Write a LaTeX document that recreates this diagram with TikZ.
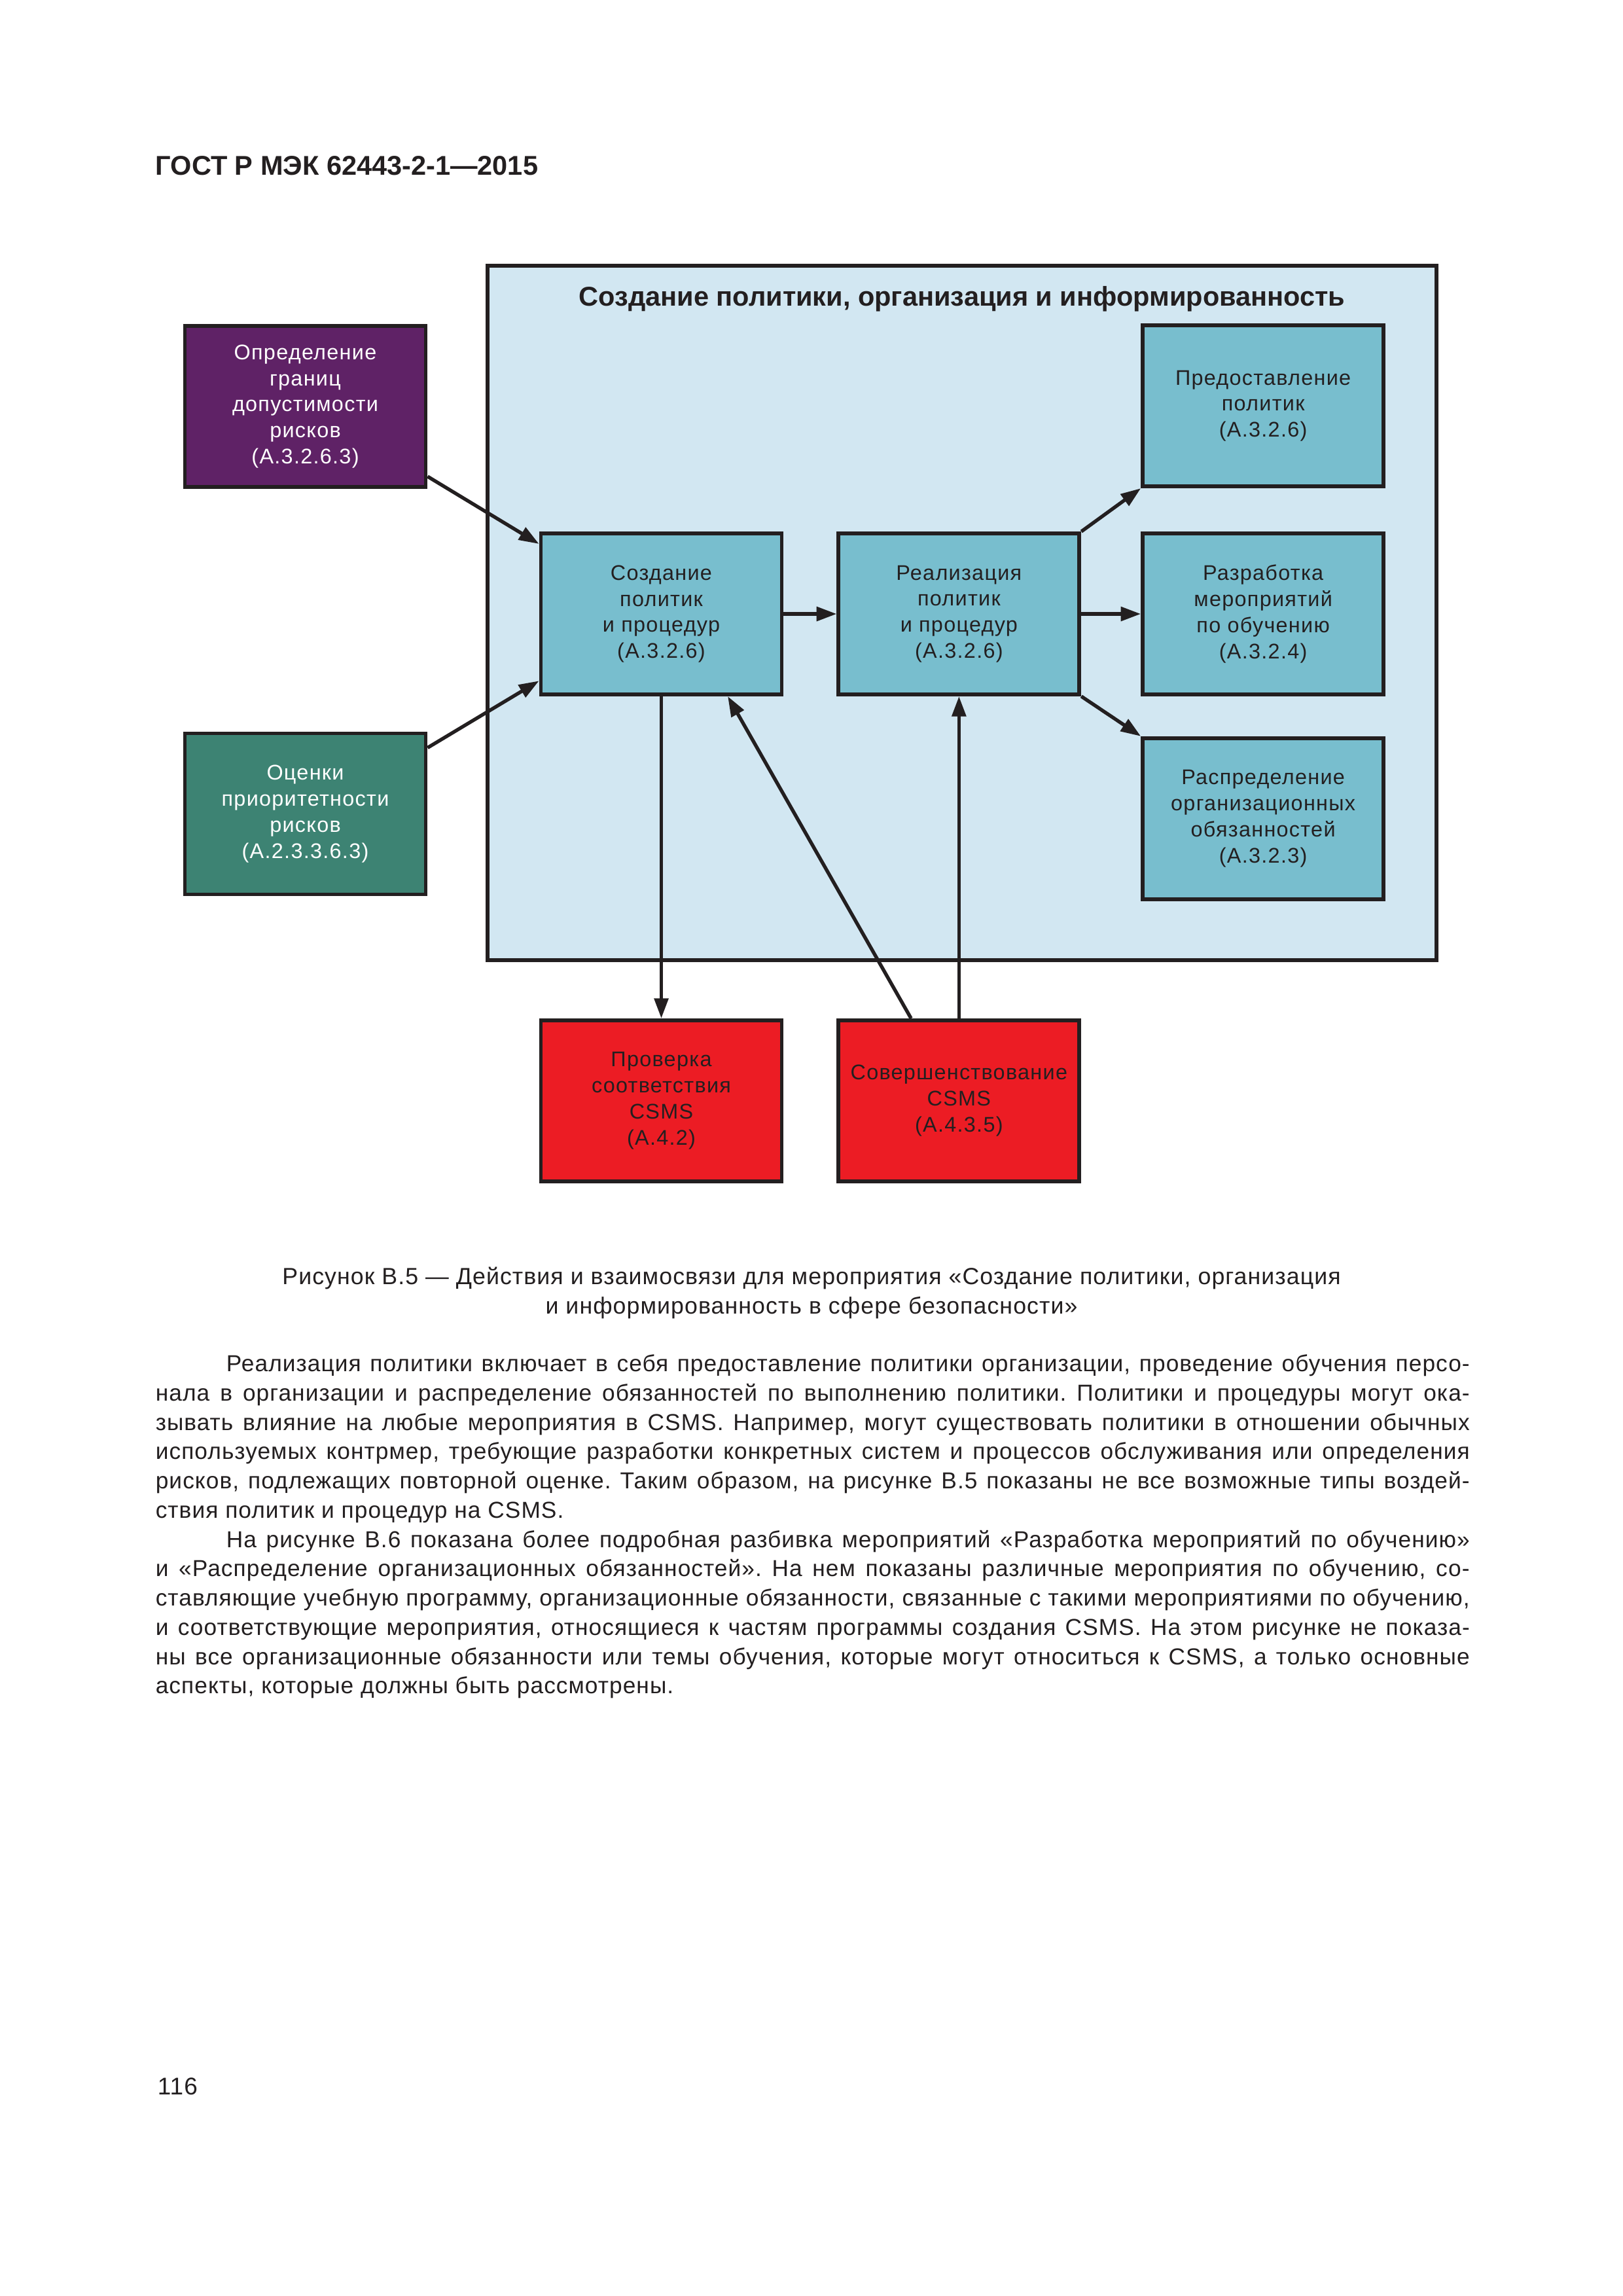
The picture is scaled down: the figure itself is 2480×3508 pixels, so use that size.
\documentclass[tikz,border=0pt]{standalone}
\usepackage{fontspec}
\setmainfont{Liberation Sans}
\newfontfamily\boxfont{Liberation Sans}[LetterSpace=4.0]
\newfontfamily\bodyfont{Liberation Sans}[LetterSpace=3.0]
\usetikzlibrary{positioning,arrows.meta}
\frenchspacing

\definecolor{inkc}{HTML}{231F20}
\definecolor{framefill}{HTML}{D2E7F2}
\definecolor{tealfill}{HTML}{78BECE}
\definecolor{plumfill}{HTML}{5F2266}
\definecolor{pinefill}{HTML}{3D8373}
\definecolor{redfill}{HTML}{EC1C24}

\tikzset{
  stage/.style={draw=inkc, line width=1.4pt, fill=tealfill, text=inkc,
    minimum width=31.16mm, minimum height=20.83mm, inner sep=0pt, align=center,
    font=\boxfont\fontsize{7.8}{9.6}\selectfont},
  outer/.style={stage, text=white},
  link/.style={draw=inkc, line width=1.3pt, -{Triangle[length=2.6mm,width=1.8mm]}},
  bodytext/.style={inner sep=0pt, text=inkc, font=\bodyfont\fontsize{8.5}{10.78}\selectfont},
}

\begin{document}
\begin{tikzpicture}[x=0.0846667mm, y=-0.0846667mm]
  \fill[white] (0,0) rectangle (2480,3508);
  \useasboundingbox (0,0) rectangle (2480,3508);

  % page header
  \node[anchor=base west, inner sep=0pt, text=inkc, font=\bfseries\fontsize{10}{12}\selectfont]
    (head) at (237,267) {ГОСТ Р МЭК 62443-2-1—2015};

  % big frame and its title
  \node[draw=inkc, line width=1.4pt, fill=framefill, minimum width=122.77mm,
    minimum height=89.83mm, inner sep=0pt] (frame) at (1470,936.5) {};
  \node[anchor=base, inner sep=0pt, text=inkc, font=\bfseries\fontsize{10}{12}\selectfont]
    (title) at (1470,467) {Создание политики, организация и информированность};

  % boxes
  \node[outer, fill=plumfill] (limits) at (466.5,621)
    {Определение\\границ\\допустимости\\рисков\\(А.3.2.6.3)};
  \node[outer, fill=pinefill] (priority) at (466.5,1243.5)
    {Оценки\\приоритетности\\рисков\\(А.2.3.3.6.3)};
  \node[stage] (create) at (1010.5,938)
    {Создание\\политик\\и процедур\\(А.3.2.6)};
  \node[stage] (realize)[right=6.86mm of create]
    {Реализация\\политик\\и процедур\\(А.3.2.6)};
  \node[stage] (training)[right=7.7mm of realize]
    {Разработка\\мероприятий\\по обучению\\(А.3.2.4)};
  \node[stage] (provide)[above=5.59mm of training]
    {Предоставление\\политик\\(А.3.2.6)};
  \node[stage] (duties)[below=5.16mm of training]
    {Распределение\\организационных\\обязанностей\\(А.3.2.3)};
  \node[stage, fill=redfill] (check)[below=41.66mm of create]
    {Проверка\\соответствия\\CSMS\\(А.4.2)};
  \node[stage, fill=redfill] (improve)[below=41.66mm of realize]
    {Совершенствование\\CSMS\\(А.4.3.5)};

  % connectors
  \draw[link] ([yshift=1.6mm]limits.south east) -- ([yshift=-1.6mm]create.north west);
  \draw[link] ([yshift=-2.1mm]priority.north east) -- ([yshift=2mm]create.south west);
  \draw[link] (create) -- (realize);
  \draw[link] (realize) -- (training);
  \draw[link] (realize.north east) -- (provide.south west);
  \draw[link] (realize.south east) -- (duties.north west);
  \draw[link] (create.south) -- (check.north);
  \draw[link] ([xshift=-6.2mm]improve.north) -- ([xshift=8.6mm]create.south);
  \draw[link] (improve.north) -- (realize.south);

  % caption
  \node[bodytext, anchor=base, font=\bodyfont\fontsize{8.6}{10.78}\selectfont] (cap1) at (1240,1962)
    {Рисунок В.5 — Действия и взаимосвязи для мероприятия «Создание политики, организация};
  \node[bodytext, anchor=base, font=\bodyfont\fontsize{8.6}{10.78}\selectfont] (cap2) at (1240,2007)
    {и информированность в сфере безопасности»};

  % body text
  \node[bodytext, anchor=north west, text width=170mm, align=justify] (body) at (237,2069)
    {\hyphenpenalty=10000\exhyphenpenalty=10000\tolerance=10000
    \hspace*{9.15mm}Реализация политики включает в себя предоставление политики организации, проведение обучения персо-\linebreak
    нала в организации и распределение обязанностей по выполнению политики. Политики и процедуры могут ока-\linebreak
    зывать влияние на любые мероприятия в CSMS. Например, могут существовать политики в отношении обычных\linebreak
    используемых контрмер, требующие разработки конкретных систем и процессов обслуживания или определения\linebreak
    рисков, подлежащих повторной оценке. Таким образом, на рисунке В.5 показаны не все возможные типы воздей-\linebreak
    ствия политик и процедур на CSMS.\par
    \hspace*{9.15mm}На рисунке В.6 показана более подробная разбивка мероприятий «Разработка мероприятий по обучению»\linebreak
    и «Распределение организационных обязанностей». На нем показаны различные мероприятия по обучению, со-\linebreak
    ставляющие учебную программу, организационные обязанности, связанные с такими мероприятиями по обучению,\linebreak
    и соответствующие мероприятия, относящиеся к частям программы создания CSMS. На этом рисунке не показа-\linebreak
    ны все организационные обязанности или темы обучения, которые могут относиться к CSMS, а только основные\linebreak
    аспекты, которые должны быть рассмотрены.};

  % page number
  \node[bodytext, anchor=base west, font=\bodyfont\fontsize{8.9}{11}\selectfont] (pagenum) at (240,3200) {116};
\end{tikzpicture}
\end{document}
